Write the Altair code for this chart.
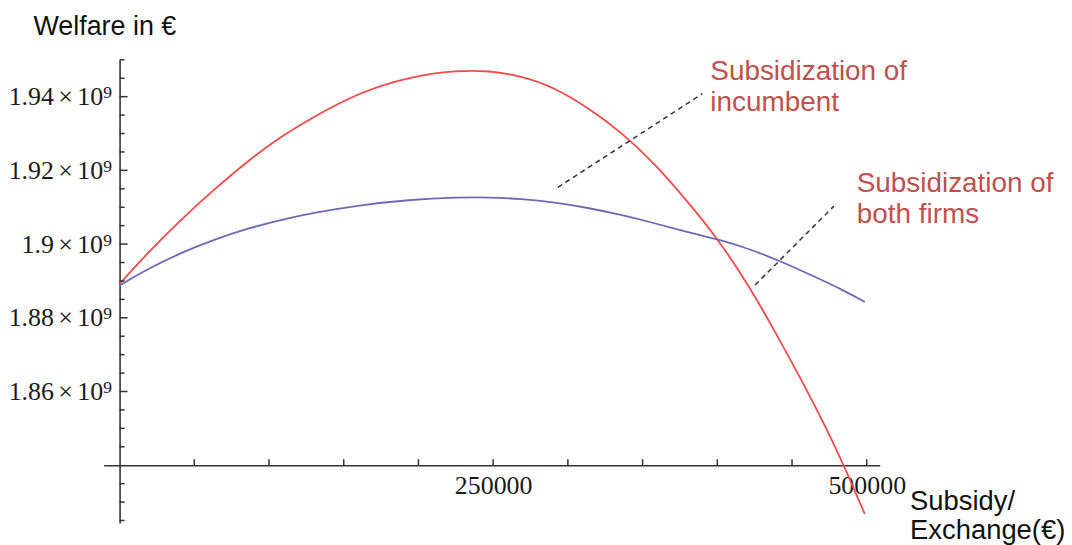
import altair as alt
import pandas as pd

# ---- data (y in units of 10^9 €) ----
red_x = [0, 18667, 41333, 63333, 85333, 108000, 130000, 160000, 193333, 226667,
         246667, 268667, 291333, 313333, 335333, 358000, 380000, 400000, 420000,
         438000, 458000, 473333, 484667, 498667]
red_y = [1.88919, 1.89757, 1.90676, 1.91486, 1.92243, 1.92919, 1.93459, 1.94108,
         1.94541, 1.94716, 1.94703, 1.94568, 1.94243, 1.93703, 1.93054, 1.92189,
         1.91162, 1.90162, 1.88946, 1.87676, 1.86189, 1.84973, 1.84000, 1.82676]

blue_x = [0, 18667, 41333, 63333, 85333, 108000, 130000, 160000, 193333, 226667,
          246667, 268667, 291333, 313333, 335333, 358000, 380000, 400000, 420000,
          442000, 463333, 484667, 498667]
blue_y = [1.88878, 1.89324, 1.89770, 1.90122, 1.90419, 1.90662, 1.90851, 1.91054,
          1.91203, 1.91270, 1.91270, 1.91230, 1.91135, 1.90986, 1.90797, 1.90568,
          1.90324, 1.90135, 1.89892, 1.89541, 1.89149, 1.88743, 1.88432]

series_names = ["Subsidization of incumbent", "Subsidization of both firms"]
series_colors = ["#f24a4a", "#6b6bb3"]

x_label_values = [250000, 500000]
x_tick_values = [50000, 100000, 150000, 200000, 250000, 300000, 350000, 400000, 450000, 500000]
y_major_values = [1.86, 1.88, 1.90, 1.92, 1.94]
y_minor_values = [1.825, 1.83, 1.835, 1.845, 1.85, 1.855, 1.865, 1.87, 1.875, 1.885,
                  1.89, 1.895, 1.905, 1.91, 1.915, 1.925, 1.93, 1.935, 1.945, 1.95]
axis_cross_y = 1.84

# annotation anchors (data units)
label_text = ["Subsidization of\nincumbent", "Subsidization of\nboth firms"]
label_x = [395300, 493300]
label_y = [1.9446, 1.9141]
pointer_x = [293300, 425300]
pointer_y = [1.9154, 1.8889]
pointer_x2 = [390000, 478000]
pointer_y2 = [1.9408, 1.9103]

# ---- tables ----
curves = pd.DataFrame({
    "x": red_x + blue_x,
    "y": red_y + blue_y,
    "series": [series_names[0]] * len(red_x) + [series_names[1]] * len(blue_x),
})
xt = pd.DataFrame({"x": x_tick_values})
xt["y"] = axis_cross_y
xt["y2"] = axis_cross_y + 0.00162
ymaj = pd.DataFrame({"y": y_major_values, "x": 0, "x2": 5333})
ymin = pd.DataFrame({"y": y_minor_values, "x": 0, "x2": 3333})
labels = pd.DataFrame({"x": label_x, "y": label_y, "t": label_text})
pointers = pd.DataFrame({"x": pointer_x, "y": pointer_y, "x2": pointer_x2, "y2": pointer_y2})

xs = alt.Scale(domain=[-10667, 508667], nice=False, zero=False)
ys = alt.Scale(domain=[1.8243, 1.95], nice=False, zero=False)

axis_color = "#333333"

x_axis = alt.Axis(
    values=x_label_values, labelExpr="format(datum.value, 'd')",
    offset=-58, ticks=False, tickSize=0, grid=False,
    domainColor=axis_color, domainWidth=1.6,
    labelFont="Liberation Serif", labelFontSize=26, labelColor="#1a1a1a",
    labelPadding=7, labelFlush=False, labelOverlap=False,
    title=["Subsidy/", "Exchange(€)"], titleFont="Liberation Sans", titleFontSize=27.5,
    titleFontWeight="normal", titleColor="#111111", titleAlign="left",
    titleBaseline="alphabetic", titleX=809, titleY=44, titleLineHeight=30,
)
y_axis = alt.Axis(
    values=y_major_values,
    labelExpr="format(datum.value, '.2~f') + '\u2006×\u200610⁹'",
    offset=-16, ticks=False, tickSize=0, grid=False,
    domainColor=axis_color, domainWidth=1.6,
    labelFont="Liberation Serif", labelFontSize=26, labelColor="#1a1a1a",
    labelPadding=8, labelFlush=False, labelOverlap=False,
    title="Welfare in €", titleFont="Liberation Sans", titleFontSize=27,
    titleFontWeight="normal", titleColor="#111111", titleAngle=0, titleAlign="left",
    titleBaseline="alphabetic", titleX=-87, titleY=-25.5,
)


def X(field):
    return alt.X(field, scale=xs, axis=x_axis)


def Y(field):
    return alt.Y(field, scale=ys, axis=y_axis)


lines = alt.Chart(curves).mark_line(strokeWidth=1.8, interpolate="basis").encode(
    x=X("x:Q"), y=Y("y:Q"),
    color=alt.Color("series:N", scale=alt.Scale(domain=series_names, range=series_colors), legend=None),
    order=alt.Order("x:Q"),
)

xticks = alt.Chart(xt).mark_rule(color=axis_color, strokeWidth=1.5).encode(
    x=X("x:Q"), y=Y("y:Q"), y2="y2:Q")
ymajor = alt.Chart(ymaj).mark_rule(color=axis_color, strokeWidth=1.5).encode(
    x=X("x:Q"), x2="x2:Q", y=Y("y:Q"))
yminor = alt.Chart(ymin).mark_rule(color=axis_color, strokeWidth=1.5).encode(
    x=X("x:Q"), x2="x2:Q", y=Y("y:Q"))

ptr = alt.Chart(pointers).mark_rule(color="#333333", strokeWidth=1.5, strokeDash=[5, 4]).encode(
    x=X("x:Q"), x2="x2:Q", y=Y("y:Q"), y2="y2:Q")

txt = alt.Chart(labels).mark_text(
    align="left", baseline="alphabetic", lineBreak="\n", lineHeight=31,
    font="Liberation Sans", fontSize=28, color="#c0504d",
).encode(x=X("x:Q"), y=Y("y:Q"), text="t:N")

chart = alt.layer(lines, xticks, ymajor, yminor, ptr, txt).properties(
    width=779, height=465,
    padding={"left": 96, "top": 51, "right": 185, "bottom": 21},
    autosize=alt.AutoSizeParams(type="none"),
    background="white",
).configure_view(stroke=None)

chart.save("out.html", embed_options={"renderer": "svg", "actions": False})
